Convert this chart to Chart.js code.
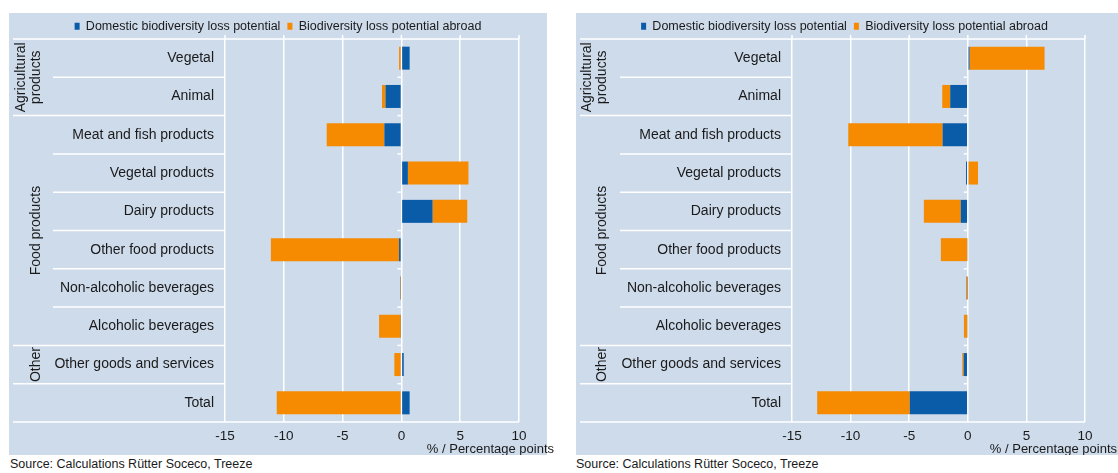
<!DOCTYPE html>
<html>
<head>
<meta charset="utf-8">
<script src="https://cdn.jsdelivr.net/npm/chart.js@4.4.0/dist/chart.umd.min.js"></script>
<style>
    body { margin: 0; width: 1118px; height: 473px; background: #fff; position: relative; overflow: hidden;
           font-family: "Liberation Sans", Arial, sans-serif; }
    .panel { position: absolute; top: 13px; }
    .panel canvas { display: block; }
    .source { position: absolute; top: 457px; font-size: 12.5px; color: #1a1a1a; }
</style>
</head>
<body>
<div class="panel" style="left:9px"><canvas id="chartLeft" width="551" height="442"></canvas></div>
<div class="panel" style="left:576px"><canvas id="chartRight" width="542" height="442"></canvas></div>
<div class="source" style="left:10px">Source: Calculations Rütter Soceco, Treeze</div>
<div class="source" style="left:576px">Source: Calculations Rütter Soceco, Treeze</div>

<script>
// Data
const categories = [
    'Vegetal', 'Animal', 'Meat and fish products', 'Vegetal products', 'Dairy products',
    'Other food products', 'Non-alcoholic beverages', 'Alcoholic beverages',
    'Other goods and services', 'Total'
];
const seriesLabels = ['Domestic biodiversity loss potential', 'Biodiversity loss potential abroad'];
const tickValues = [-15, -10, -5, 0, 5, 10];
const axisTitle = '% / Percentage points';

const leftDomestic = [0.7, -1.35, -1.45, 0.55, 2.65, -0.2, -0.04, -0.05, 0.2, 0.7];
const leftAbroad = [-0.2, -0.3, -4.9, 5.15, 2.95, -10.9, -0.05, -1.85, -0.6, -10.6];

const rightDomestic = [0.15, -1.5, -2.15, -0.15, -0.6, -0.05, -0.03, -0.05, -0.35, -4.95];
const rightAbroad = [6.4, -0.68, -8.05, 0.87, -3.15, -2.25, -0.12, -0.28, -0.12, -7.9];

// group labels on the left side (first / last row index)
const groupNames = [['Agricultural', 'products'], ['Food products'], ['Other']];
const groupFrom = [0, 2, 8];
const groupTo = [1, 7, 8];

const BLUE = '#0a5ba8';
const ORANGE = '#f68a00';
const PANEL = '#cedbeb';
const TEXT = '#1a1a1a';
const FONT = '"Liberation Sans", Arial, sans-serif';

/**
 * Background panel, separators, group labels and axis title
 */
const panelPlugin = {
    id: 'panel',
    beforeDraw(chart, args, opts) {
        const ctx = chart.ctx;
        ctx.save();
        ctx.fillStyle = PANEL;
        ctx.fillRect(0, 0, opts.width, chart.height);
        ctx.restore();
    },
    beforeDatasetsDraw(chart) {
        const { ctx, chartArea: a, scales: { x, y } } = chart;
        const half = (y.getPixelForValue(1) - y.getPixelForValue(0)) / 2;
        const x0 = x.getPixelForValue(0);
        const seg = (x1, y1, x2, y2) => {
            ctx.beginPath();
            ctx.moveTo(x1, y1);
            ctx.lineTo(x2, y2);
            ctx.stroke();
        };
        ctx.save();
        ctx.strokeStyle = '#ffffff';
        ctx.lineWidth = 1.5;
        seg(4, a.top, a.right, a.top);
        seg(4, a.bottom, a.right, a.bottom);
        // gridlines poke a little above the top line
        tickValues.forEach(v => {
            const px = x.getPixelForValue(v);
            seg(px, a.top - 4, px, a.top);
        });
        for (let i = 0; i < categories.length - 1; i++) {
            const yb = y.getPixelForValue(i) + half;
            seg(groupTo.includes(i) ? 4 : 44, yb, a.left, yb);
            seg(x0 - 4, yb, x0, yb);
        }
        ctx.restore();
    },
    afterDraw(chart, args, opts) {
        const { ctx, scales: { y } } = chart;
        const half = (y.getPixelForValue(1) - y.getPixelForValue(0)) / 2;
        ctx.save();
        ctx.fillStyle = TEXT;
        ctx.font = '14px ' + FONT;
        ctx.textAlign = 'center';
        ctx.textBaseline = 'middle';
        groupNames.forEach((lines, g) => {
            const top = y.getPixelForValue(groupFrom[g]) - half;
            const bottom = y.getPixelForValue(groupTo[g]) + half;
            const cy = (top + bottom) / 2;
            lines.forEach((txt, k) => {
                const cx = opts.groupX - (lines.length - 1 - k) * 15;
                ctx.save();
                ctx.translate(cx, cy);
                ctx.rotate(-Math.PI / 2);
                ctx.fillText(txt, 0, 0);
                ctx.restore();
            });
        });
        ctx.font = '13px ' + FONT;
        ctx.textAlign = 'right';
        ctx.fillText(axisTitle, opts.titleX, 436);
        ctx.restore();
    }
};

function createChart(canvasId, domestic, abroad, panelWidth, padRight, titleX, groupX) {
    const ctx = document.getElementById(canvasId);
    return new Chart(ctx, {
        type: 'bar',
        data: {
            labels: categories,
            datasets: [
                { label: seriesLabels[0], data: domestic, backgroundColor: BLUE, borderWidth: 0 },
                { label: seriesLabels[1], data: abroad, backgroundColor: ORANGE, borderWidth: 0 }
            ]
        },
        plugins: [panelPlugin],
        options: {
            indexAxis: 'y',
            responsive: false,
            animation: false,
            barPercentage: 0.6,
            categoryPercentage: 1,
            layout: { padding: { left: 28, right: padRight, top: 0, bottom: 0 } },
            plugins: {
                panel: { width: panelWidth, titleX: titleX, groupX: groupX },
                tooltip: { enabled: false },
                legend: {
                    display: true,
                    position: 'top',
                    maxHeight: 26,
                    labels: {
                        boxWidth: 5,
                        boxHeight: 7,
                        padding: 7,
                        color: TEXT,
                        font: { family: FONT, size: 12.5 }
                    }
                }
            },
            scales: {
                x: {
                    stacked: true,
                    min: -15,
                    max: 10,
                    afterBuildTicks: s => { s.ticks = tickValues.map(v => ({ value: v })); },
                    afterFit: s => { s.height = 33; },
                    grid: { color: '#ffffff', lineWidth: 1.5, drawTicks: false },
                    border: { display: false },
                    ticks: { color: TEXT, padding: 6, font: { family: FONT, size: 13.5 } }
                },
                y: {
                    stacked: true,
                    afterFit: s => { s.width = 188; },
                    grid: { display: false, drawTicks: false },
                    border: { display: false },
                    ticks: { color: TEXT, padding: 11, font: { family: FONT, size: 14 } }
                }
            }
        }
    });
}

createChart('chartLeft', leftDomestic, leftAbroad, 538, 41, 545, 27);
createChart('chartRight', rightDomestic, rightAbroad, 542, 33, 541, 26);
</script>
</body>
</html>
